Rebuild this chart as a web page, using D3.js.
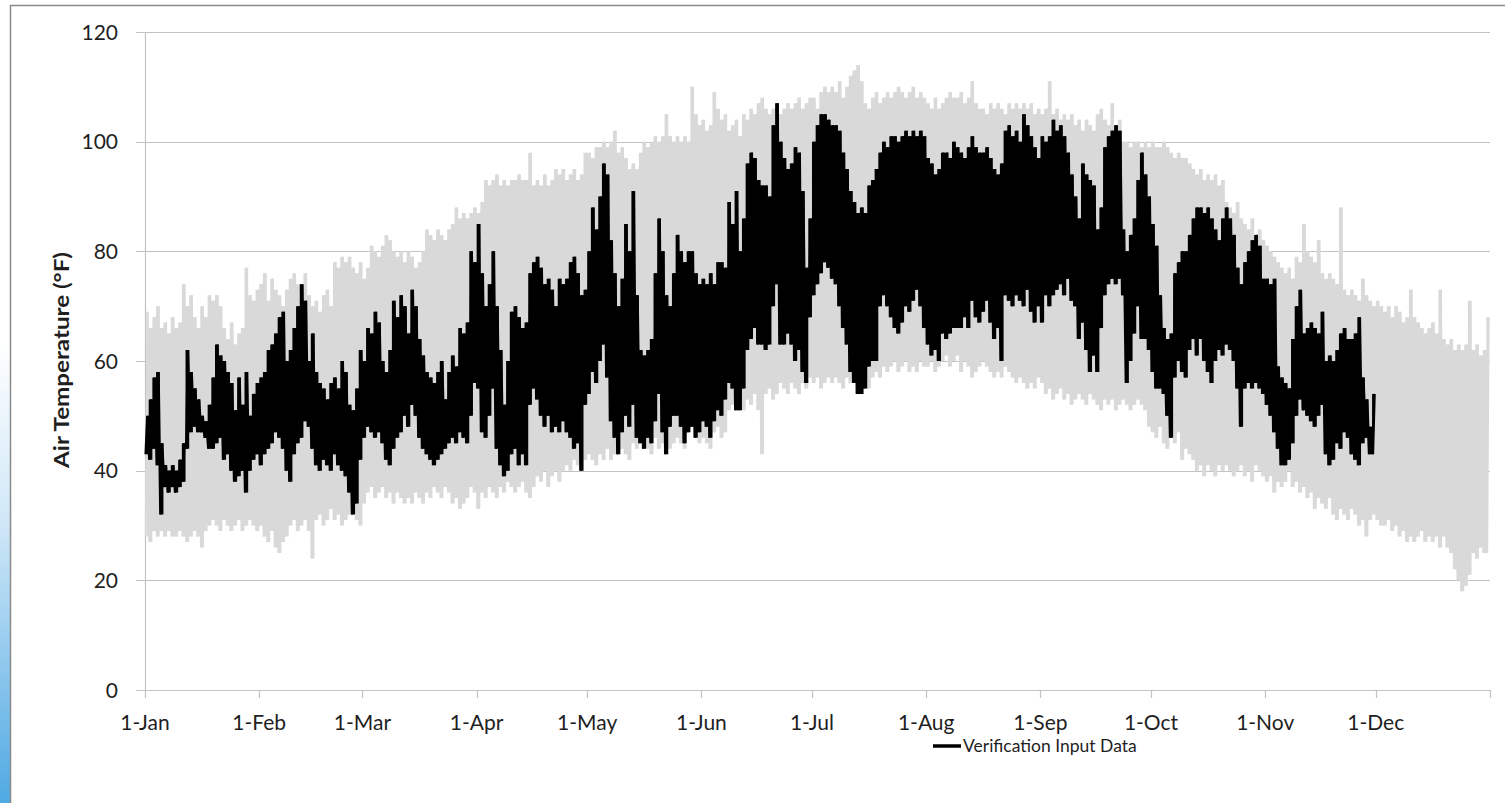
<!DOCTYPE html>
<html>
<head>
<meta charset="utf-8">
<script src="https://cdn.jsdelivr.net/npm/d3@7"></script>
<style>
  body { margin: 0; background: #fff; }
  svg { display: block; }
</style>
</head>
<body>
<svg id="chart" width="1505" height="803"></svg>
<script>
// ---------- DATA (daily high / low, °F) ----------
const seriesName = "Verification Input Data";
const yTitle = "Air Temperature (°F)";
const yTicks = [0, 20, 40, 60, 80, 100, 120];
const monthLabels = ["1-Jan","1-Feb","1-Mar","1-Apr","1-May","1-Jun","1-Jul","1-Aug","1-Sep","1-Oct","1-Nov","1-Dec"];

// Grey background series (full year)
const greyHigh = [
  // Jan
  69,66,68,70,66,67,65,68,66,67,74,70,72,68,66,70,68,72,71,72,70,66,64,67,63,65,66,77,72,71,73,
  // Feb
  74,76,71,75,73,72,70,73,75,76,74,71,76,72,70,71,69,72,73,70,78,77,79,78,79,77,76,78,
  // Mar
  75,77,81,80,79,81,83,82,80,79,80,78,80,79,77,78,80,84,83,82,84,83,82,84,85,88,86,87,86,87,88,
  // Apr
  87,89,93,92,93,94,92,93,92,93,93,94,93,93,98,92,93,92,94,92,93,95,94,95,93,94,95,93,94,98,
  // May
  98,97,99,99,100,99,100,102,98,99,97,95,96,95,98,100,99,100,101,100,101,105,101,100,101,100,101,100,110,105,103,
  // Jun
  104,102,103,109,106,104,105,102,103,104,101,105,104,106,105,107,108,106,105,106,107,105,106,107,106,107,108,106,107,108,
  // Jul
  108,106,109,110,109,110,109,111,108,110,112,113,114,111,107,106,108,109,107,108,109,108,109,110,109,108,109,110,108,109,108,
  // Aug
  107,106,108,106,107,108,109,108,108,109,107,108,111,107,106,106,105,107,106,107,106,105,107,106,107,106,107,106,107,105,106,
  // Sep
  105,106,111,105,106,104,105,104,105,103,104,102,104,103,102,105,106,104,103,107,103,104,100,100,99,100,100,99,100,99,
  // Oct
  100,99,99,100,99,98,97,98,97,97,96,95,94,95,93,94,93,94,92,93,89,88,87,89,86,85,84,86,83,84,82,
  // Nov
  81,80,79,78,77,76,77,75,79,78,85,80,79,78,82,76,75,76,75,74,88,73,72,73,72,71,75,72,71,70,
  // Dec
  71,70,69,70,68,70,69,67,68,73,68,67,66,65,66,67,65,73,64,63,64,62,63,62,63,71,62,63,61,62,68
];
const greyLow = [
  // Jan
  28,27,29,28,29,28,29,28,28,29,28,27,28,29,28,26,29,30,31,30,29,31,30,29,30,31,29,30,31,30,29,
  // Feb
  30,28,27,29,26,25,27,28,30,31,29,30,31,29,24,31,32,30,31,33,31,32,30,31,32,33,31,30,
  // Mar
  34,36,37,35,36,37,35,36,34,36,35,34,35,34,36,35,34,36,35,37,36,35,37,36,34,35,33,34,35,37,36,
  // Apr
  33,36,35,37,36,35,37,36,38,37,36,37,38,36,35,37,39,38,40,37,39,40,38,40,41,40,42,41,40,42,
  // May
  43,42,41,43,42,44,42,43,45,44,43,42,45,44,46,45,44,43,46,44,45,46,44,45,46,45,44,47,48,46,45,
  // Jun
  46,45,44,47,48,46,47,51,52,53,52,51,53,52,54,51,43,54,55,53,54,56,55,54,56,55,54,56,55,57,
  // Jul
  56,57,55,56,57,56,57,56,55,57,56,56,57,58,56,55,57,58,57,59,58,59,60,58,59,60,58,59,58,60,59,
  // Aug
  59,60,58,59,60,61,59,60,61,58,60,59,57,58,59,60,59,58,57,58,57,59,58,57,56,57,56,55,56,55,57,
  // Sep
  56,54,55,53,54,55,53,54,52,53,54,53,52,54,53,52,51,53,52,53,51,52,53,52,51,52,53,52,51,48,
  // Oct
  47,46,48,45,44,46,45,47,42,44,43,42,40,41,39,41,40,39,41,40,41,40,39,40,41,39,40,38,41,40,39,
  // Nov
  38,39,36,38,37,38,40,37,38,36,37,35,36,33,35,34,33,35,32,31,33,32,31,33,32,30,31,28,31,32,
  // Dec
  31,30,30,31,29,30,28,29,27,28,27,28,29,27,28,27,28,26,28,26,25,22,20,18,19,21,25,24,26,25,25
];

// Verification input data (1-Jan to 30-Nov)
const blackHigh = [
  // Jan
  50,53,57,58,45,41,40,41,40,42,45,62,58,55,53,50,49,52,57,63,61,60,58,56,51,57,52,58,50,54,56,
  // Feb
  57,58,62,63,65,68,69,60,62,66,70,74,71,60,65,58,56,55,53,56,57,55,60,58,52,51,55,62,
  // Mar
  60,66,65,69,67,60,58,62,71,68,72,70,65,73,70,64,61,58,57,56,58,60,53,58,61,59,66,65,67,80,78,
  // Apr
  85,76,70,74,80,70,62,52,60,69,70,68,66,67,76,78,79,77,74,75,73,70,75,74,75,78,79,76,72,73,
  // May
  80,88,84,90,96,94,82,76,70,75,85,80,91,72,62,61,62,64,76,86,80,72,70,76,83,80,78,80,80,76,74,
  // Jun
  75,74,76,74,78,78,77,89,85,91,80,86,96,98,97,93,92,92,90,103,107,100,97,95,96,99,98,91,77,86,
  // Jul
  100,103,105,105,104,103,103,102,98,95,91,89,87,88,87,92,93,95,98,100,99,101,101,100,101,102,101,102,101,102,101,
  // Aug
  97,96,94,95,98,98,97,100,99,98,97,99,101,99,98,98,99,97,95,94,96,102,103,101,102,100,105,103,101,99,97,
  // Sep
  101,100,101,104,102,103,101,98,94,90,86,96,94,93,92,84,88,99,101,102,103,102,84,80,83,86,93,98,94,90,
  // Oct
  85,81,72,66,64,65,76,78,80,80,83,86,88,88,87,88,86,84,82,86,88,86,83,77,74,78,80,82,83,81,75,
  // Nov
  75,74,75,59,57,56,55,64,70,73,65,66,67,66,65,69,60,61,60,62,65,66,64,64,65,68,57,53,48,54
];
const blackLow = [
  // Jan
  43,42,44,41,32,37,36,37,36,37,38,44,47,48,47,47,46,44,44,45,46,42,43,40,38,39,40,36,40,42,43,
  // Feb
  41,43,44,45,47,46,44,40,38,43,45,46,49,48,44,41,40,42,41,40,43,41,40,39,36,32,34,42,
  // Mar
  46,48,47,46,47,45,42,41,44,46,47,50,48,52,50,46,44,43,42,41,42,43,44,45,46,45,47,46,45,50,56,
  // Apr
  55,47,46,50,55,44,41,39,40,43,44,41,43,41,52,55,53,50,48,50,47,48,47,49,47,46,44,45,40,52,
  // May
  54,58,56,60,63,57,49,46,43,47,50,48,52,46,45,44,46,45,49,54,47,43,48,50,50,48,45,47,48,46,47,
  // Jun
  49,48,46,49,51,50,53,56,55,51,51,55,62,64,66,63,63,62,63,70,74,63,63,65,63,60,62,58,56,68,
  // Jul
  72,74,76,78,77,75,74,70,66,63,58,56,54,54,55,59,60,60,70,72,70,68,66,65,67,70,69,71,73,70,66,
  // Aug
  63,61,62,60,65,64,65,66,66,66,68,66,71,68,67,69,71,67,64,66,60,72,71,70,72,71,70,73,69,67,70,
  // Sep
  67,72,70,72,73,74,72,75,71,70,64,67,62,58,61,58,66,72,74,75,74,75,72,56,60,65,70,64,64,62,
  // Oct
  58,55,55,54,50,46,57,60,58,57,62,64,61,64,60,58,56,60,62,61,63,62,60,55,48,55,56,55,56,55,54,
  // Nov
  52,50,47,44,41,41,42,45,50,53,51,50,49,48,50,52,43,41,42,45,44,47,46,43,42,41,45,46,43,43
];

// ---------- CHART ----------
const svg = d3.select("#chart");
const W = 1505, H = 803;
const plot = { left: 145, right: 1490, top: 32, bottom: 690 };
const t0 = Date.UTC(2015, 0, 1);
const dayMs = 864e5;
const x = d3.scaleUtc()
  .domain([new Date(t0), new Date(Date.UTC(2016, 0, 1))])
  .range([plot.left, plot.right]);
const xDay = d => x(new Date(t0 + d * dayMs));
const y = d3.scaleLinear().domain([0, 120]).range([plot.bottom, plot.top]);
const FONT = "Lato, 'Open Sans', sans-serif";
const TXT = "#1f1f1f";

// left blue strip + frame
const defs = svg.append("defs");
const grad = defs.append("linearGradient").attr("id", "blueStrip")
  .attr("x1", 0).attr("y1", 0).attr("x2", 0).attr("y2", 1);
grad.append("stop").attr("offset", "0%").attr("stop-color", "#ffffff");
grad.append("stop").attr("offset", "40%").attr("stop-color", "#cfe7f7");
grad.append("stop").attr("offset", "100%").attr("stop-color", "#4fa9e3");
svg.append("rect").attr("x", 0).attr("y", 340).attr("width", 10).attr("height", H - 340)
  .attr("fill", "url(#blueStrip)");
svg.append("path")
  .attr("d", `M10.5,${H} L10.5,5.5 L${W},5.5`)
  .attr("fill", "none").attr("stroke", "#8a8a8a").attr("stroke-width", 1.5);

// gridlines
svg.append("g").selectAll("line").data(yTicks).join("line")
  .attr("x1", plot.left - 9).attr("x2", plot.right)
  .attr("y1", d => Math.round(y(d)) + 0.5).attr("y2", d => Math.round(y(d)) + 0.5)
  .attr("stroke", "#c3c3c3").attr("stroke-width", 1.2);

// y axis line
svg.append("line").attr("x1", plot.left + 0.5).attr("x2", plot.left + 0.5)
  .attr("y1", plot.top).attr("y2", plot.bottom)
  .attr("stroke", "#c3c3c3").attr("stroke-width", 1.2);

// x axis ticks
const monthStarts = d3.utcMonth.range(new Date(t0), new Date(Date.UTC(2016, 0, 1)));
const tickPositions = monthStarts.concat([new Date(Date.UTC(2016, 0, 1))]);
svg.append("g").selectAll("line").data(tickPositions).join("line")
  .attr("x1", d => Math.round(x(d)) + 0.5).attr("x2", d => Math.round(x(d)) + 0.5)
  .attr("y1", plot.bottom).attr("y2", plot.bottom + 8)
  .attr("stroke", "#c3c3c3").attr("stroke-width", 1.2);

const fmt = d3.utcFormat("%-d-%b");
svg.append("g").selectAll("text").data(monthStarts).join("text")
  .attr("x", d => x(d)).attr("y", 730)
  .attr("text-anchor", "middle")
  .attr("font-family", FONT)
  .attr("font-size", 21).attr("fill", TXT)
  .text((d, i) => monthLabels[i] || fmt(d));

svg.append("g").selectAll("text").data(yTicks).join("text")
  .attr("x", 118).attr("y", d => y(d)).attr("dy", "0.36em")
  .attr("text-anchor", "end")
  .attr("font-family", FONT)
  .attr("font-size", 21).attr("fill", TXT)
  .text(d => d);

// y title
svg.append("text")
  .attr("transform", `translate(69,${(250 + 470) / 2}) rotate(-90)`)
  .attr("text-anchor", "middle")
  .attr("font-family", FONT)
  .attr("font-weight", "bold").attr("font-size", 21).attr("fill", TXT)
  .attr("textLength", 216).attr("lengthAdjust", "spacingAndGlyphs")
  .text(yTitle);

// series: daily band (area) + zig-zag line (daily low -> daily high)
function zig(hi, lo) {
  const pts = [];
  hi.forEach((h, i) => {
    pts.push([i + 0.2, lo[i]]);
    pts.push([i + 0.65, h]);
  });
  return pts;
}
const line = d3.line().x(p => xDay(p[0])).y(p => y(p[1]));
const band = (hi, lo) => d3.area()
  .curve(d3.curveStep)
  .x((d, i) => xDay(i + 0.5))
  .y0((d, i) => y(lo[i]))
  .y1((d, i) => y(hi[i]))(hi);

svg.append("path").attr("d", band(greyHigh, greyLow)).attr("fill", "#d9d9d9");
svg.append("path").datum(zig(greyHigh, greyLow))
  .attr("d", line).attr("fill", "none")
  .attr("stroke", "#d9d9d9").attr("stroke-width", 2);

svg.append("path").attr("d", band(blackHigh, blackLow)).attr("fill", "#000");
svg.append("path").datum(zig(blackHigh, blackLow))
  .attr("d", line).attr("fill", "none")
  .attr("stroke", "#000").attr("stroke-width", 2.6);

// legend
svg.append("line").attr("x1", 933).attr("x2", 961).attr("y1", 746).attr("y2", 746)
  .attr("stroke", "#000").attr("stroke-width", 3.5);
svg.append("text").attr("x", 963).attr("y", 746).attr("dy", "0.36em")
  .attr("font-family", FONT)
  .attr("font-size", 17.5).attr("fill", TXT)
  .text(seriesName);
</script>
</body>
</html>
